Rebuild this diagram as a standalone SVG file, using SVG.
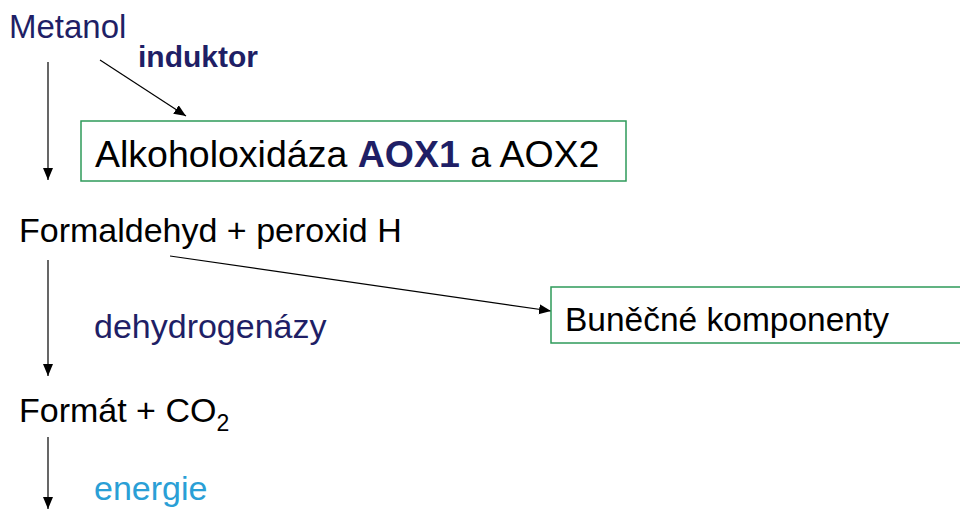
<svg xmlns="http://www.w3.org/2000/svg" width="960" height="509" viewBox="0 0 960 509">
  <style>
    text { font-family: "Liberation Sans", Arial, sans-serif; }
    .navy { fill: #1f1f66; }
    .blk { fill: #000000; }
    .blue { fill: #2a9fd6; }
    .box { fill: #ffffff; stroke: #2e9a5a; stroke-width: 1.5; }
    .conn { stroke: #000000; stroke-width: 1.2; fill: none; marker-end: url(#ah); }
  </style>
  <defs>
    <marker id="ah" markerUnits="userSpaceOnUse" markerWidth="13" markerHeight="11" refX="12" refY="5" orient="auto">
      <path d="M0,0 L12,5 L0,10 Z" fill="#000000"/>
    </marker>
  </defs>
  <rect width="960" height="509" fill="#ffffff"/>

  <g id="connectors">
    <line class="conn" x1="48" y1="62" x2="48" y2="180"/>
    <line class="conn" x1="100" y1="60" x2="186" y2="116"/>
    <line class="conn" x1="48" y1="260" x2="48" y2="376"/>
    <line class="conn" x1="170" y1="256" x2="551" y2="311"/>
    <line class="conn" x1="48" y1="437" x2="48" y2="509"/>
  </g>

  <g id="metanol">
    <text class="navy" x="9" y="38" font-size="33">Metanol</text>
  </g>
  <g id="induktor">
    <text class="navy" x="138" y="67" font-size="30" font-weight="bold">induktor</text>
  </g>
  <g id="aox">
    <rect class="box" x="81" y="121" width="545" height="60"/>
    <text class="blk" x="95" y="167" font-size="37.5">Alkoholoxidáza <tspan class="navy" font-weight="bold">AOX1</tspan> a AOX2</text>
  </g>
  <g id="formaldehyd">
    <text class="blk" x="19" y="242" font-size="34">Formaldehyd + peroxid H</text>
  </g>
  <g id="dehydrogenazy">
    <text class="navy" x="94" y="338" font-size="34">dehydrogenázy</text>
  </g>
  <g id="bunecne">
    <rect class="box" x="551" y="287" width="420" height="56"/>
    <text class="blk" x="565" y="331" font-size="33.5">Buněčné komponenty</text>
  </g>
  <g id="formiat">
    <text class="blk" x="19" y="422" font-size="34">Formát + CO<tspan font-size="23" dy="9">2</tspan></text>
  </g>
  <g id="energie">
    <text class="blue" x="94" y="500" font-size="34">energie</text>
  </g>
</svg>
